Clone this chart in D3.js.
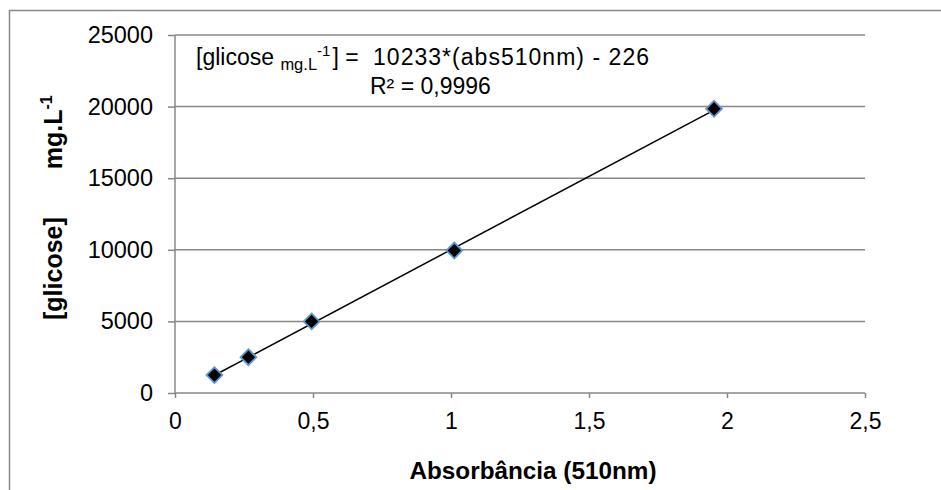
<!DOCTYPE html>
<html>
<head>
<meta charset="utf-8">
<script src="https://cdn.jsdelivr.net/npm/d3@7"></script>
<style>
  body { margin: 0; background: #fff; }
  text { font-family: "Liberation Sans", Arial, sans-serif; fill: #000; }
</style>
</head>
<body>
<div id="chart"></div>
<script>
// data
var absorbance = [0.143, 0.266, 0.495, 1.012, 1.953];
var glicose = [1250, 2500, 5000, 9950, 19850];
var xTicks = [0, 0.5, 1, 1.5, 2, 2.5];
var yTicks = [0, 5000, 10000, 15000, 20000, 25000];
var slope = 10233, intercept = -226;

var width = 941, height = 490;
var margin = {left: 175, top: 35, right: 76, bottom: 97};
var w = width - margin.left - margin.right;
var h = height - margin.top - margin.bottom;
var grey = "#878787";

var svg = d3.select("#chart")
	.append("svg")
		.attr("width", width)
		.attr("height", height);

// outer chart border (runs off the picture on right and bottom)
svg.append("rect")
	.attr("x", 9.5).attr("y", 10.5)
	.attr("width", 1000).attr("height", 1000)
	.attr("fill", "none")
	.attr("stroke", grey)
	.attr("stroke-width", 1.5);

var g = svg.append("g")
	.attr("transform", "translate(" + margin.left + "," + margin.top + ")");

var x = d3.scaleLinear().domain([0, 2.5]).range([0, w]);
var y = d3.scaleLinear().domain([0, 25000]).range([h, 0]);
var fmt = function(d) { return String(d).replace(".", ","); };

// gridlines
g.selectAll(".grid")
	.data(yTicks.slice(1))
	.enter().append("line")
		.attr("x1", 0).attr("x2", w)
		.attr("y1", function(d) { return y(d); })
		.attr("y2", function(d) { return y(d); })
		.attr("stroke", grey)
		.attr("stroke-width", 1.5);

// y axis
var yAxis = g.append("g")
	.call(d3.axisLeft(y).tickValues(yTicks).tickSize(7).tickPadding(15).tickFormat(fmt));
// x axis
var xAxis = g.append("g")
	.attr("transform", "translate(0," + h + ")")
	.call(d3.axisBottom(x).tickValues(xTicks).tickSize(5).tickPadding(15).tickFormat(fmt));

[yAxis, xAxis].forEach(function(a) {
	a.selectAll("path").attr("stroke", grey).attr("stroke-width", 1.5);
	a.selectAll("line").attr("stroke", grey).attr("stroke-width", 1.5);
	a.selectAll("text")
		.style("font-family", "'Liberation Sans', Arial, sans-serif")
		.attr("fill", "#000");
});
yAxis.selectAll("text").style("font-size", "23.5px");
xAxis.selectAll("text").style("font-size", "23px");
xAxis.select(".domain").attr("d", "M0,0H" + w);
yAxis.select(".domain").attr("d", "M0,0V" + h);

// trendline
var xr = d3.extent(absorbance);
g.append("line")
	.attr("x1", x(xr[0])).attr("y1", y(slope * xr[0] + intercept))
	.attr("x2", x(xr[1])).attr("y2", y(slope * xr[1] + intercept))
	.attr("stroke", "#000")
	.attr("stroke-width", 1.5);

// markers
g.selectAll(".pt")
	.data(absorbance)
	.enter().append("path")
		.attr("d", d3.symbol().type(d3.symbolSquare).size(125))
		.attr("transform", function(d, i) {
			return "translate(" + x(d) + "," + y(glicose[i]) + ") rotate(45)";
		})
		.attr("fill", "#000")
		.attr("stroke", "#5f97d6")
		.attr("stroke-width", 1.8);

// equation
var eq = svg.append("text")
	.attr("x", 196).attr("y", 65)
	.style("font-size", "23px");
eq.append("tspan").text("[glicose ");
eq.append("tspan").attr("dy", 5).style("font-size", "16.5px").text("mg.L");
eq.append("tspan").attr("dy", -14).style("font-size", "15px").text("-1");
eq.append("tspan").attr("dy", 9).attr("dx", 2).text("] =");
eq.append("tspan").attr("x", 373)
	.attr("textLength", 276).attr("lengthAdjust", "spacing")
	.text(slope + "*(abs510nm) - " + (-intercept));

svg.append("text")
	.attr("x", 370).attr("y", 94)
	.style("font-size", "23px")
	.text("R² = 0,9996");

// axis titles
svg.append("text")
	.attr("x", 533).attr("y", 479)
	.attr("text-anchor", "middle")
	.style("font-size", "24.3px")
	.style("font-weight", "bold")
	.text("Absorbância (510nm)");

var yt = svg.append("text")
	.attr("transform", "translate(62,320) rotate(-90)")
	.style("font-size", "25px")
	.style("font-weight", "bold");
yt.append("tspan").text("[glicose]");
yt.append("tspan").attr("dx", 48).text("mg.L");
yt.append("tspan").attr("dy", -10).style("font-size", "16px").text("-1");
</script>
</body>
</html>
